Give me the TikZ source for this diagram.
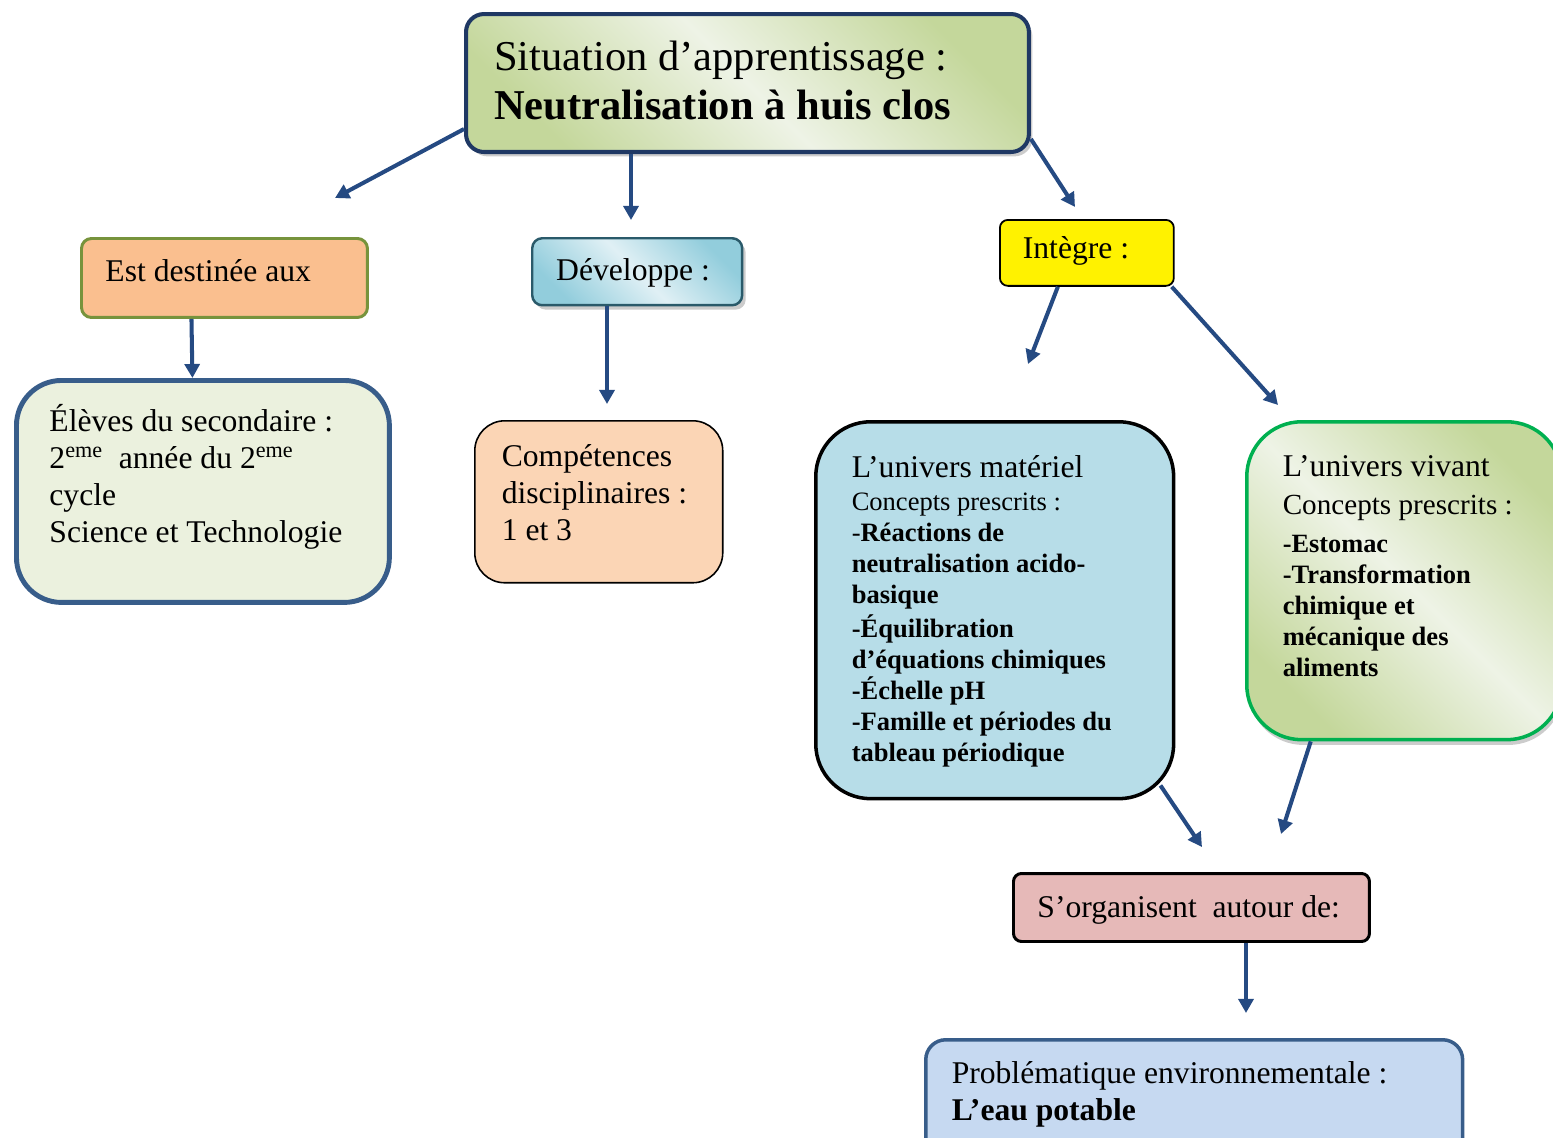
\documentclass[tikz,border=0pt]{standalone}
\usepackage{fontspec}
\setmainfont{Liberation Serif}
\usepackage{xcolor}
\usepackage{tikz}
\usetikzlibrary{arrows.meta, shadows}
\definecolor{fleche}{RGB}{37,74,130}
\definecolor{marine}{RGB}{31,56,100}
\definecolor{vertfonce}{RGB}{196,215,155}
\definecolor{vertpale}{RGB}{238,243,230}
\definecolor{vertclair}{RGB}{235,241,222}
\definecolor{olive}{RGB}{119,147,60}
\definecolor{orange1}{RGB}{250,191,143}
\definecolor{peche}{RGB}{251,213,181}
\definecolor{bleudev}{RGB}{146,205,220}
\definecolor{bleupale}{RGB}{224,240,245}
\definecolor{sarcelle}{RGB}{42,90,106}
\definecolor{bleubord}{RGB}{56,93,138}
\definecolor{bleumat}{RGB}{183,221,232}
\definecolor{bleuprob}{RGB}{198,217,241}
\definecolor{vertvif}{RGB}{0,176,80}
\definecolor{rose}{RGB}{230,185,184}
\newcommand{\titre}{\fontsize{24.2}{28.4}\selectfont}
\newcommand{\corps}{\fontsize{18}{21}\selectfont}
\newcommand{\petit}{\fontsize{15.1}{17.6}\selectfont}

\begin{document}
\begin{tikzpicture}[
  x=0.02cm, y=-0.02cm,
  boite/.style  = {anchor=north west, align=flush left, inner ysep=0pt,
                   font=\corps},
  situ/.style   = {draw=marine, line width=2.3pt, rounded corners=0.36cm,
                   top color=vertfonce, bottom color=vertfonce,
                   middle color=vertpale, shading angle=-45,
                   drop shadow={shadow xshift=2pt, shadow yshift=-2.5pt,
                                fill=black!40, opacity=.5}},
  dest/.style   = {draw=olive, line width=1.7pt, fill=orange1,
                   rounded corners=0.2cm},
  devel/.style  = {draw=sarcelle, line width=1.4pt, rounded corners=0.2cm,
                   top color=bleudev, bottom color=bleudev,
                   middle color=bleupale, shading angle=-45,
                   drop shadow={shadow xshift=2pt, shadow yshift=-2.5pt,
                                fill=black!40, opacity=.5}},
  integ/.style  = {draw=black, line width=1pt, fill=yellow,
                   rounded corners=0.16cm},
  eleve/.style  = {draw=bleubord, line width=2.8pt, fill=vertclair,
                   rounded corners=0.9cm},
  compet/.style = {draw=black, line width=0.9pt, fill=peche,
                   rounded corners=0.6cm},
  mater/.style  = {draw=black, line width=2pt, fill=bleumat,
                   rounded corners=1.1cm},
  vivant/.style = {draw=vertvif, line width=2pt, rounded corners=1.1cm,
                   top color=vertfonce, bottom color=vertfonce,
                   middle color=vertpale, shading angle=-45,
                   drop shadow={shadow xshift=1pt, shadow yshift=-3pt,
                                fill=black!40, opacity=.5}},
  organ/.style  = {draw=black, line width=1.7pt, fill=rose,
                   rounded corners=0.16cm},
  probl/.style  = {draw=bleubord, line width=2pt, fill=bleuprob,
                   rounded corners=0.4cm},
  arr/.style    = {-{Triangle[length=8pt,width=8.5pt]}, line width=2.3pt,
                   fleche},
]
  \useasboundingbox (0,0) rectangle (1553,1137);
  \clip (0,0) rectangle (1553,1137);

  \node[boite, situ, font=\titre, text width=10.14cm, inner xsep=0.56cm,
        text height=1.12cm, text depth=1.64cm] (situation) at (464,12)
    {Situation d’apprentissage~:\\ \textbf{Neutralisation à huis clos}};

  \node[boite, dest, text width=4.76cm, inner xsep=0.48cm,
        text height=0.86cm, text depth=0.72cm] (est) at (80,237)
    {Est destinée aux};
  \node[boite, devel, text width=3.24cm, inner xsep=0.48cm,
        text height=0.84cm, text depth=0.5cm] (dev) at (531,237)
    {Développe~:};
  \node[boite, integ, text width=2.56cm, inner xsep=0.46cm,
        text height=0.78cm, text depth=0.54cm] (integre) at (999,219)
    {Intègre~:};

  \node[boite, eleve, text width=6.14cm, inner xsep=0.66cm,
        text height=1.02cm, text depth=3.42cm] (eleves) at (14,378)
    {Élèves du secondaire~:\\
     2\textsuperscript{eme}\ \ année du 2\textsuperscript{eme}\\
     cycle\\
     Science et Technologie};
  \node[boite, compet, text width=3.88cm, inner xsep=0.54cm,
        text height=0.92cm, text depth=2.32cm] (comp) at (474,420)
    {Compétences\\ disciplinaires~:\\ 1 et 3};

  \node[boite, mater, text width=5.72cm, inner xsep=0.72cm,
        text height=1.12cm, text depth=6.42cm] (mat) at (814,420)
    {L’univers matériel\\
     \fontsize{15.1}{18.5}\selectfont Concepts prescrits~:\\
     \petit -\textbf{Réactions de}\\
     \textbf{neutralisation acido-}\\
     \textbf{basique}\\[2pt]
     \textbf{-Équilibration}\\
     \textbf{d’équations chimiques}\\
     \textbf{-Échelle pH}\\
     \textbf{-Famille et périodes du}\\
     \textbf{tableau périodique}\par};

  \node[boite, vivant, text width=4.86cm, inner xsep=0.72cm,
        text height=1.1cm, text depth=5.26cm] (viv) at (1245,420)
    {L’univers vivant\\
     \fontsize{16.6}{21.6}\selectfont Concepts prescrits~:\\
     \fontsize{15}{21.6}\selectfont\bfseries -Estomac\\
     \petit -Transformation\\
     chimique et\\
     mécanique des\\
     aliments\par};

  \node[boite, organ, text width=6.16cm, inner xsep=0.48cm,
        text height=0.88cm, text depth=0.48cm] (org) at (1012,872)
    {S’organisent\ \ autour de:};
  \node[boite, probl, text width=9.7cm, inner xsep=0.52cm,
        text height=0.88cm, text depth=1.6cm] (prob) at (924,1038)
    {Problématique environnementale~:\\ \textbf{L’eau potable}};

  % pointes libres des fleches
  \coordinate (p1) at (335,198);
  \coordinate (p2) at (631,220);
  \coordinate (p3) at (1075,207);
  \coordinate (p5) at (607,404);
  \coordinate (p6) at (1028,364);
  \coordinate (p7) at (1278,405);
  \coordinate (p8) at (1202,847);
  \coordinate (p9) at (1281,834);
  \coordinate (p10) at (1246,1013);

  \draw[arr] ([yshift=0.5cm]situation.south west) -- (p1);
  \draw[arr] (situation.south -| p2) -- (p2);
  \draw[arr] ([yshift=0.3cm]situation.south east) -- (p3);
  \draw[arr] ([xshift=-0.66cm]est.south) -- ([xshift=-0.21cm]eleves.north);
  \draw[arr] (dev.south -| p5) -- (p5);
  \draw[arr] ([xshift=-0.58cm]integre.south) -- (p6);
  \draw[arr] ([xshift=-0.06cm]integre.south east) -- (p7);
  \draw[arr] ([xshift=-0.3cm,yshift=0.3cm]mat.south east) -- (p8);
  \draw[arr] ([xshift=-1.87cm]viv.south) -- (p9);
  \draw[arr] (org.south -| p10) -- (p10);
\end{tikzpicture}
\end{document}
